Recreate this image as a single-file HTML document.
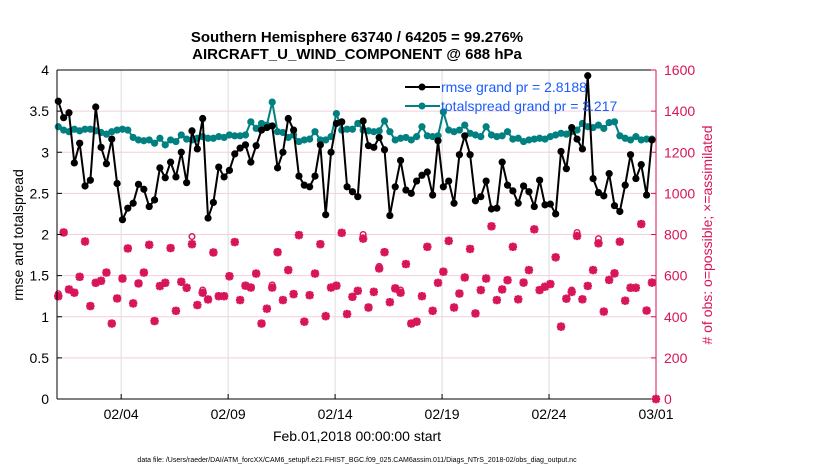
<!DOCTYPE html>
<html><head><meta charset="utf-8"><style>
html,body{margin:0;padding:0;background:#fff;}
svg{display:block;font-family:"Liberation Sans",sans-serif;}
</style></head><body>
<svg id="chart" width="830" height="470" viewBox="0 0 830 470">
<text x="357" y="42" text-anchor="middle" font-size="15" font-weight="bold">Southern Hemisphere 63740 / 64205 = 99.276%</text>
<text x="357" y="59" text-anchor="middle" font-size="15" font-weight="bold">AIRCRAFT_U_WIND_COMPONENT @ 688 hPa</text>
<g id="grid"></g>
<g id="obsg"></g>
<g id="spreadg"></g>
<g id="rmseg"></g>
<g id="axes"></g>
<g>
<line x1="405" y1="87" x2="440" y2="87" stroke="#000" stroke-width="2"/>
<circle cx="422" cy="87" r="3.5" fill="#000"/>
<text x="441" y="92" font-size="14" fill="#1a5cff">rmse grand pr = 2.8188</text>
<line x1="405" y1="106" x2="440" y2="106" stroke="#008080" stroke-width="2"/>
<circle cx="422" cy="106" r="3.5" fill="#008080"/>
<text x="441" y="111" font-size="14" fill="#1a5cff">totalspread grand pr = 3.217</text>
</g>
<text transform="translate(23,235) rotate(-90)" text-anchor="middle" font-size="14">rmse and totalspread</text>
<text transform="translate(712,235) rotate(-90)" text-anchor="middle" font-size="14" fill="#d8145a"># of obs: o=possible; ×=assimilated</text>
<text x="357" y="441" text-anchor="middle" font-size="14">Feb.01,2018 00:00:00 start</text>
<text x="357" y="462" text-anchor="middle" font-size="7">data file: /Users/raeder/DAI/ATM_forcXX/CAM6_setup/f.e21.FHIST_BGC.f09_025.CAM6assim.011/Diags_NTrS_2018-02/obs_diag_output.nc</text>
</svg>
<script>
const rmseVals=[3.62,3.42,3.48,2.87,3.11,2.59,2.66,3.55,3.06,2.86,3.16,2.62,2.18,2.32,2.38,2.61,2.55,2.34,2.42,2.81,2.69,2.88,2.70,3.00,2.63,3.26,3.04,3.41,2.20,
2.39,2.82,2.70,2.78,2.98,3.05,3.09,2.88,3.08,3.27,3.30,3.32,2.81,3.00,3.41,3.27,2.71,2.60,2.58,2.71,3.09,2.24,3.00,3.35,3.37,2.58,2.52,2.46,
3.38,3.08,3.06,3.18,3.03,2.23,2.58,2.90,2.54,2.50,2.65,2.72,2.76,2.48,3.14,2.58,2.65,2.38,2.97,3.20,2.97,2.41,2.46,2.65,2.31,2.32,2.88,2.60,
2.53,2.38,2.59,2.52,2.34,2.66,2.36,2.37,2.25,3.01,2.80,3.30,3.16,3.04,3.93,2.68,2.51,2.47,2.74,2.35,2.28,2.60,2.97,2.68,2.85,2.48,3.15];
const spreadVals=[3.31,3.27,3.25,3.28,3.26,3.28,3.28,3.26,3.24,3.22,3.25,3.27,3.28,3.27,
3.18,3.15,3.14,3.15,3.11,3.17,3.09,3.15,3.13,3.21,3.16,3.15,3.17,3.19,
3.17,3.17,3.19,3.18,3.21,3.20,3.20,3.21,3.37,3.29,3.35,3.33,3.61,3.25,3.24,3.18,3.21,3.13,3.15,3.16,3.25,3.15,3.15,3.19,3.47,3.27,3.28,3.28,3.35,
3.27,3.26,3.25,3.26,3.38,3.25,3.15,3.17,3.18,3.15,3.19,3.31,3.20,3.19,3.20,3.49,3.27,3.25,3.27,3.33,3.23,3.21,3.19,3.31,3.21,3.19,3.20,3.25,
3.16,3.17,3.13,3.15,3.16,3.17,3.16,3.19,3.21,3.23,3.22,3.25,3.27,3.35,3.31,3.30,3.33,3.29,3.36,3.37,3.20,3.17,3.15,3.19,3.15,3.16,3.16];
const obsAssim=[500,810,533,517,594,766,452,565,575,615,367,489,586,732,465,562,615,750,379,549,
565,734,429,570,541,753,457,517,484,713,500,500,597,763,481,551,542,610,367,439,
542,714,481,627,510,797,376,505,610,753,403,542,551,808,413,497,526,780,445,521,
635,714,471,538,517,656,367,376,500,740,429,565,619,769,445,513,591,730,416,530,
586,840,481,533,578,740,485,566,627,825,530,546,559,689,352,488,521,793,485,550,
627,757,425,579,611,765,478,541,541,851,430,566,0];
const obsPoss=[512,810,533,517,594,766,452,565,575,615,367,489,586,732,465,562,615,750,379,549,
565,734,429,570,541,790,457,530,484,713,500,500,597,763,481,551,542,610,367,439,
555,714,481,627,510,797,376,505,610,753,403,542,551,808,413,497,526,800,445,521,
645,714,471,538,530,656,367,376,500,740,429,565,619,769,445,513,591,730,416,530,
586,840,481,533,578,740,485,566,627,825,530,546,559,689,352,488,530,810,485,550,
627,780,425,579,611,765,478,541,541,851,430,566,0];
const xTickDays=[3,8,13,18,23,28];
const xTickLabels=["02/04","02/09","02/14","02/19","02/24","03/01"];
const yLeftTicks=[0,0.5,1,1.5,2,2.5,3,3.5,4];
const yLeftLabels=["0","0.5","1","1.5","2","2.5","3","3.5","4"];
const yRightTicks=[0,200,400,600,800,1000,1200,1400,1600];

const NS="http://www.w3.org/2000/svg";
const X0=57,X1=656,Y0=399,Y1=70;
const xs=d=>X0+(X1-X0)*d/28;
const yl=v=>Y0-(Y0-Y1)*v/4;
const yr=v=>Y0-(Y0-Y1)*v/1600;
const dayOf=i=>0.06+i*0.25;
function mk(tag,attrs,parent){const e=document.createElementNS(NS,tag);for(const k in attrs)e.setAttribute(k,attrs[k]);parent.appendChild(e);return e;}
const grid=document.getElementById('grid'),axes=document.getElementById('axes');
yRightTicks.forEach(v=>{if(v>0&&v<1600){const l=mk('line',{x1:X0,x2:X1,y1:yr(v),y2:yr(v),stroke:'#f3cfdd','stroke-width':1},grid);

}});
xTickDays.forEach((d,i)=>{const l=mk('line',{x1:xs(d),x2:xs(d),y1:Y1,y2:Y0,stroke:'#dcdcdc','stroke-width':1},grid);


const t=mk('text',{x:xs(d),y:Y0+20,'text-anchor':'middle','font-size':14},axes);t.textContent=xTickLabels[i];


mk('line',{x1:xs(d),x2:xs(d),y1:Y0,y2:Y0-5,stroke:'#000'},axes);});
const og=document.getElementById('obsg');const pink='#d8145a';
obsAssim.forEach((v,i)=>{const x=xs(Math.min(dayOf(i),28)),y=yr(v),s=4.2;
const p=mk('path',{d:`M${x-s} ${y}H${x+s}M${x} ${y-s}V${y+s}M${x-s*0.75} ${y-s*0.75}L${x+s*0.75} ${y+s*0.75}M${x-s*0.75} ${y+s*0.75}L${x+s*0.75} ${y-s*0.75}`,stroke:pink,'stroke-width':2.6,fill:'none'},og);

});
obsPoss.forEach((v,i)=>{const c=mk('circle',{cx:xs(Math.min(dayOf(i),28)),cy:yr(v),r:2.8,stroke:pink,'stroke-width':1.4,fill:'none'},og);

});
function series(vals,color,gid,name){const g=document.getElementById(gid);
const pts=vals.map((v,i)=>xs(dayOf(i))+','+yl(v)).join(' ');
const pl=mk('polyline',{points:pts,fill:'none',stroke:color,'stroke-width':2,'stroke-linejoin':'round'},g);


vals.forEach((v,i)=>{const c=mk('circle',{cx:xs(dayOf(i)),cy:yl(v),r:3.6,fill:color},g);

});}
series(spreadVals,'#008080','spreadg','totalspread');
series(rmseVals,'#000000','rmseg','rmse');
mk('line',{x1:X0,x2:X0,y1:Y1,y2:Y0,stroke:'#000'},axes);
mk('line',{x1:X0,x2:X1,y1:Y0,y2:Y0,stroke:'#000'},axes);
mk('line',{x1:X0,x2:X1,y1:Y1,y2:Y1,stroke:'#000'},axes);
mk('line',{x1:X1,x2:X1,y1:Y1,y2:Y0,stroke:pink},axes);
yLeftTicks.forEach((v,i)=>{mk('line',{x1:X0,x2:X0+5,y1:yl(v),y2:yl(v),stroke:'#000'},axes);
const t=mk('text',{x:X0-8,y:yl(v)+5,'text-anchor':'end','font-size':14},axes);t.textContent=yLeftLabels[i];

});
yRightTicks.forEach(v=>{mk('line',{x1:X1,x2:X1-5,y1:yr(v),y2:yr(v),stroke:pink},axes);
const t=mk('text',{x:X1+8,y:yr(v)+5,'font-size':14,fill:pink},axes);t.textContent=String(v);

});
</script>
</body></html>
